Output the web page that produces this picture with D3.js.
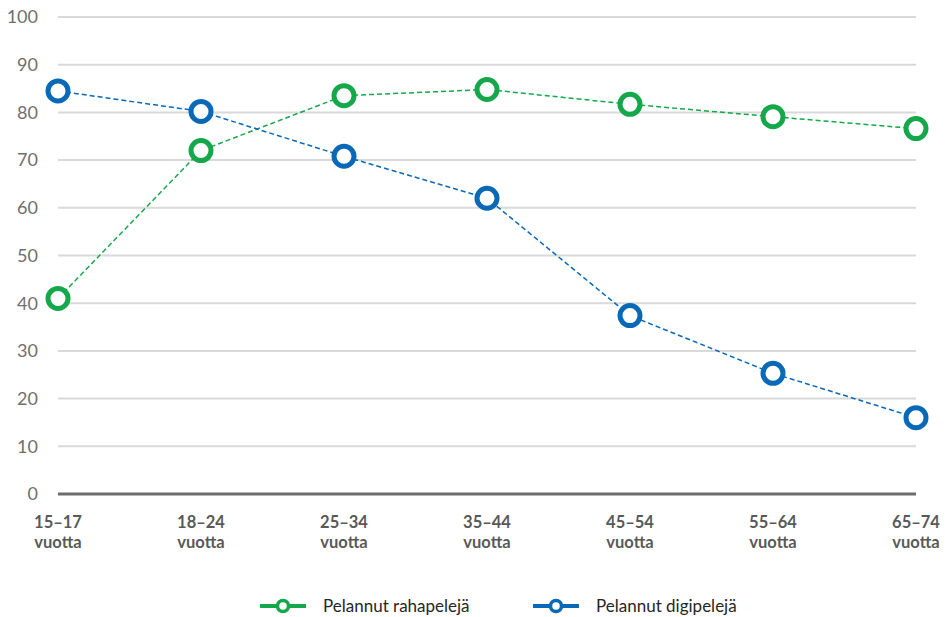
<!DOCTYPE html>
<html>
<head>
<meta charset="utf-8">
<script src="https://cdn.jsdelivr.net/npm/d3@7"></script>
<style>
  body { margin: 0; background: #fff; }
  svg { display: block; font-family: Lato, "Open Sans", sans-serif; }
</style>
</head>
<body>
<script>
var categories = ["15–17|vuotta", "18–24|vuotta", "25–34|vuotta", "35–44|vuotta", "45–54|vuotta", "55–64|vuotta", "65–74|vuotta"];
var rahapelit = [41, 72, 83.5, 84.8, 81.7, 79.1, 76.6];
var digipelit = [84.5, 80.2, 70.8, 62, 37.4, 25.3, 16];
var yTicks = [0, 10, 20, 30, 40, 50, 60, 70, 80, 90, 100];
var seriesNames = ["Pelannut rahapelejä", "Pelannut digipelejä"];
var seriesColors = ["#14a84a", "#0a69b7"];

var width = 949, height = 617;
var margin = { top: 17, right: 33, bottom: 123, left: 58 };

var svg = d3.select("body").append("svg")
    .attr("width", width)
    .attr("height", height);

var x = d3.scalePoint()
    .domain(d3.range(categories.length))
    .range([margin.left, width - margin.right]);

var y = d3.scaleLinear()
    .domain([0, 100])
    .range([height - margin.bottom, margin.top]);

// gridlines + y labels
var grid = svg.append("g");
grid.selectAll("line")
    .data(yTicks.filter(function (d) { return d > 0; }))
    .enter().append("line")
    .attr("x1", margin.left)
    .attr("x2", width - margin.right)
    .attr("y1", function (d) { return y(d); })
    .attr("y2", function (d) { return y(d); })
    .attr("stroke", "#d9d9d9")
    .attr("stroke-width", 2);

grid.selectAll("text")
    .data(yTicks)
    .enter().append("text")
    .attr("x", 38)
    .attr("y", function (d) { return y(d); })
    .attr("dy", "0.35em")
    .attr("text-anchor", "end")
    .attr("fill", "#6f6f6f")
    .attr("font-size", 18)
    .text(function (d) { return d; });

// base axis
svg.append("line")
    .attr("x1", margin.left)
    .attr("x2", width - margin.right)
    .attr("y1", y(0))
    .attr("y2", y(0))
    .attr("stroke", "#6b6d6d")
    .attr("stroke-width", 3);

// x labels, two lines each
var xl = svg.append("g").selectAll("g")
    .data(categories)
    .enter().append("g")
    .attr("transform", function (d, i) { return "translate(" + x(i) + "," + (y(0) + 34) + ")"; });
xl.selectAll("text")
    .data(function (d) { return d.split("|"); })
    .enter().append("text")
    .attr("y", function (d, k) { return k * 20; })
    .attr("text-anchor", "middle")
    .attr("fill", "#595959")
    .attr("font-size", 16.5)
    .attr("font-weight", "bold")
    .text(function (d) { return d; });

var line = d3.line()
    .x(function (d, i) { return x(i); })
    .y(function (d) { return y(d); });

[rahapelit, digipelit].forEach(function (vals, s) {
    var g = svg.append("g");
    g.append("path")
        .datum(vals)
        .attr("d", line)
        .attr("fill", "none")
        .attr("stroke", seriesColors[s])
        .attr("stroke-width", 1.5)
        .attr("stroke-dasharray", "5,3");
    g.selectAll("circle")
        .data(vals)
        .enter().append("circle")
        .attr("cx", function (d, i) { return x(i); })
        .attr("cy", function (d) { return y(d); })
        .attr("r", 10)
        .attr("fill", "#fff")
        .attr("stroke", seriesColors[s])
        .attr("stroke-width", 5);
});

// legend
var legendX = [260, 533];
var legend = svg.append("g").selectAll("g")
    .data(seriesNames)
    .enter().append("g")
    .attr("transform", function (d, i) { return "translate(" + legendX[i] + ",606)"; });
legend.append("line")
    .attr("x1", 0).attr("x2", 46)
    .attr("stroke", function (d, i) { return seriesColors[i]; })
    .attr("stroke-width", 4);
legend.append("circle")
    .attr("cx", 23)
    .attr("r", 5.5)
    .attr("fill", "#fff")
    .attr("stroke", function (d, i) { return seriesColors[i]; })
    .attr("stroke-width", 3.5);
legend.append("text")
    .attr("x", 63)
    .attr("dy", "0.35em")
    .attr("fill", "#262626")
    .attr("font-size", 17)
    .text(function (d) { return d; });
</script>
</body>
</html>
